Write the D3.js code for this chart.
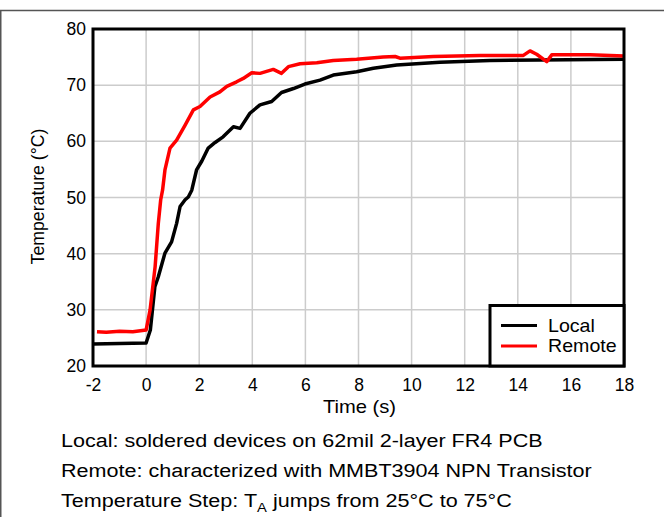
<!DOCTYPE html>
<html><head><meta charset="utf-8">
<script src="https://cdn.jsdelivr.net/npm/d3@7"></script>
<style>body{margin:0;background:#fff}svg{display:block}text{font-family:"Liberation Sans",Arial,sans-serif}</style>
</head><body>
<script>
const xTicks = [-2,0,2,4,6,8,10,12,14,16,18];
const yTicks = [20,30,40,50,60,70,80];
const localTime = [-2,-1,0,0.16,0.33,0.46,0.71,0.96,1.15,1.28,1.47,1.59,1.72,1.9,2.1,2.34,2.6,2.9,3.29,3.54,3.91,4.29,4.73,5.1,5.55,5.98,6.55,7.05,7.93,8.56,9.44,11.07,12.95,14.84,18];
const localTemp = [23.9,24.0,24.1,26.4,34.1,35.9,40.1,42.1,45.4,48.4,49.6,50.1,51.3,54.9,56.5,58.8,59.8,60.8,62.6,62.3,65.0,66.5,67.1,68.7,69.4,70.2,70.9,71.8,72.4,73.0,73.6,74.1,74.4,74.5,74.6];
const remoteTime = [-1.85,-1.5,-1,-0.5,0,0.15,0.34,0.46,0.55,0.62,0.71,0.9,1.15,1.47,1.78,2.03,2.41,2.78,3.04,3.41,3.66,3.98,4.29,4.79,5.1,5.36,5.8,6.43,7.05,7.93,8.93,9.38,9.56,10.82,12.58,14.21,14.46,14.71,15.09,15.28,16.72,18];
const remoteTemp = [26.1,26.0,26.2,26.1,26.4,30,37.7,45.4,49.6,51.3,54.9,58.8,60.2,62.9,65.6,66.2,67.9,68.8,69.8,70.6,71.2,72.2,72.1,72.8,72.1,73.3,73.8,74.0,74.4,74.6,75.0,75.1,74.8,75.1,75.3,75.3,76.1,75.5,74.2,75.4,75.4,75.2];
const seriesNames = ["Local","Remote"];
const seriesColors = ["#000000","#ff0000"];
const xTitle = "Time (s)";
const yTitle = "Temperature (°C)";
const notes = ["Local: soldered devices on 62mil 2-layer FR4 PCB","Remote: characterized with MMBT3904 NPN Transistor"];

const W=664,H=517;
const L=93,R=624,T=29,B=366;
const svg=d3.select("body").append("svg").attr("width",W).attr("height",H);
svg.append("rect").attr("width",W).attr("height",H).attr("fill","#fff");
svg.append("line").attr("x1",0).attr("x2",W).attr("y1",10.5).attr("y2",10.5).attr("stroke","#555").attr("stroke-width",1.5);
svg.append("line").attr("x1",0.75).attr("x2",0.75).attr("y1",10).attr("y2",H).attr("stroke","#555").attr("stroke-width",1.5);

const x=d3.scaleLinear().domain([-2,18]).range([L,R]);
const y=d3.scaleLinear().domain([20,80]).range([B,T]);

svg.append("g").selectAll("line").data(xTicks.slice(1,-1)).join("line")
  .attr("x1",d=>x(d)).attr("x2",d=>x(d)).attr("y1",T).attr("y2",B).attr("stroke","#cccccc").attr("stroke-width",1.5);
svg.append("g").selectAll("line").data(yTicks.slice(1,-1)).join("line")
  .attr("x1",L).attr("x2",R).attr("y1",d=>y(d)).attr("y2",d=>y(d)).attr("stroke","#cccccc").attr("stroke-width",1.5);

const xAxis=d3.axisBottom(x).tickValues(xTicks).tickSize(0).tickPadding(13).tickFormat(d=>String(d));
const gx=svg.append("g").attr("transform",`translate(0,${B})`).call(xAxis);
gx.select(".domain").remove();
gx.selectAll("text").attr("font-size",17.5).attr("fill","#000").style("font-family","Liberation Sans, Arial, sans-serif");
const yAxis=d3.axisLeft(y).tickValues(yTicks).tickSize(0).tickPadding(7).tickFormat(d=>String(d));
const gy=svg.append("g").attr("transform",`translate(${L},0)`).call(yAxis);
gy.select(".domain").remove();
gy.selectAll("text").attr("font-size",17.5).attr("fill","#000").style("font-family","Liberation Sans, Arial, sans-serif");

svg.append("clipPath").attr("id","clip").append("rect").attr("x",L).attr("y",T).attr("width",R-L).attr("height",B-T);
const line=d3.line().x(d=>x(d[0])).y(d=>y(d[1]));
const localData=localTime.map((t,i)=>[t,localTemp[i]]);
const remoteData=remoteTime.map((t,i)=>[t,remoteTemp[i]]);
const lg=svg.append("g").attr("clip-path","url(#clip)");
lg.append("path").datum(localData).attr("d",line).attr("fill","none").attr("stroke",seriesColors[0]).attr("stroke-width",3.5).attr("stroke-linejoin","round");
lg.append("path").datum(remoteData).attr("d",line).attr("fill","none").attr("stroke",seriesColors[1]).attr("stroke-width",3.5).attr("stroke-linejoin","round");

svg.append("rect").attr("x",L).attr("y",T).attr("width",R-L).attr("height",B-T).attr("fill","none").attr("stroke","#000").attr("stroke-width",3);

function stretched(px,py,sx,size){
  return svg.append("text").attr("transform",`translate(${px},${py}) scale(${sx},1)`).attr("font-size",size);
}

const leg=svg.append("g");
leg.append("rect").attr("x",490).attr("y",305.5).attr("width",R-490).attr("height",B-305.5).attr("fill","#fff").attr("stroke","#000").attr("stroke-width",3);
seriesNames.forEach((n,i)=>{
  const yy=325.5+i*20.5;
  leg.append("line").attr("x1",501).attr("x2",537).attr("y1",yy).attr("y2",yy).attr("stroke",seriesColors[i]).attr("stroke-width",3);
  stretched(548,yy+6.3,1.09,18).text(n);
});

stretched((L+R)/2+1,413,1.12,18).attr("text-anchor","middle").text(xTitle);
svg.append("text").attr("transform",`translate(44,${(T+B)/2-1}) rotate(-90)`).attr("text-anchor","middle").attr("font-size",17.7).text(yTitle);

notes.forEach((s,i)=>{
  stretched(61,447+i*30,1.135,19).text(s);
});
const n3=stretched(61,507,1.135,19);
n3.append("tspan").text("Temperature Step: T");
n3.append("tspan").attr("font-size",13).attr("dy",5).text("A");
n3.append("tspan").attr("dy",-5).text(" jumps from 25°C to 75°C");
</script>
</body></html>
